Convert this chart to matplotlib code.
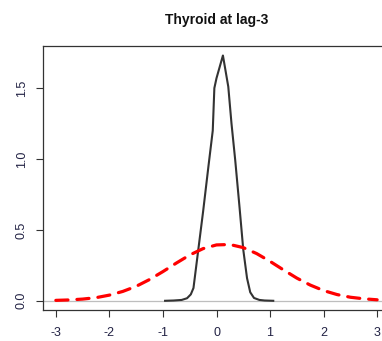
import matplotlib
matplotlib.use("Agg")
import matplotlib.pyplot as plt

plt.rcParams['font.family'] = ['Liberation Sans', 'DejaVu Sans']

title = "Thyroid at lag-3"
x_ticks = [-3, -2, -1, 0, 1, 2, 3]
y_ticks = [0.0, 0.5, 1.0, 1.5]
y_tick_labels = ["0.0", "0.5", "1.0", "1.5"]

# black density curve
dens_x = [-0.96, -0.8, -0.65, -0.55, -0.48, -0.43, -0.36, -0.25, -0.15, -0.07, -0.04, 0.0,
          0.12, 0.22, 0.28, 0.35, 0.43, 0.5, 0.57, 0.63, 0.7, 0.8, 0.9, 1.06]
dens_y = [0.0, 0.002, 0.006, 0.018, 0.045, 0.09, 0.3, 0.63, 0.95, 1.2, 1.5, 1.57,
          1.73, 1.51, 1.25, 0.99, 0.66, 0.36, 0.16, 0.06, 0.02, 0.006, 0.002, 0.0]

# red dashed reference curve
ref_x = [-3, -2.75, -2.5, -2.25, -2, -1.75, -1.5, -1.25, -1, -0.75, -0.5, -0.25, 0,
         0.25, 0.5, 0.75, 1, 1.25, 1.5, 1.75, 2, 2.25, 2.5, 2.75, 3]
ref_y = [0.003, 0.006, 0.012, 0.022, 0.040, 0.066, 0.102, 0.150, 0.206, 0.266, 0.323,
         0.368, 0.394, 0.397, 0.375, 0.333, 0.278, 0.218, 0.160, 0.111, 0.072, 0.044,
         0.025, 0.014, 0.007]

W, H = 382, 341
fig = plt.figure(figsize=(W / 100, H / 100), dpi=100)
ax = fig.add_axes([43 / W, 31 / H, (390 - 43) / W, (310 - 46) / H])

ax.axhline(0, color='#bebebe', lw=0.9, zorder=1)
ax.plot(ref_x, ref_y, color='#ff0000', lw=2.3, linestyle=(0, (3.8, 2.8)),
        dash_capstyle='round', zorder=3)
ax.plot(dens_x, dens_y, color='#333333', lw=1.5, zorder=2)

ax.set_xlim(-3.24, 3.24)
ax.set_ylim(-0.065, 1.797)
ax.set_xticks(x_ticks)
ax.set_xticklabels([str(v) for v in x_ticks])
ax.set_yticks(y_ticks)
ax.set_yticklabels(y_tick_labels, rotation=90, va='center')
ax.tick_params(axis='both', direction='out', length=5, width=0.8, colors='#333333',
               labelsize=9, labelcolor='#222244')
ax.tick_params(axis='x', pad=7)
ax.tick_params(axis='y', pad=6)
for s in ax.spines.values():
    s.set_color('#333333')
    s.set_linewidth(0.9)

fig.text(216.5 / W, 1 - 20 / H, title, ha='center', va='center',
         fontsize=10, fontweight='bold', color='#111111')

fig.savefig("out.png", dpi=100)
